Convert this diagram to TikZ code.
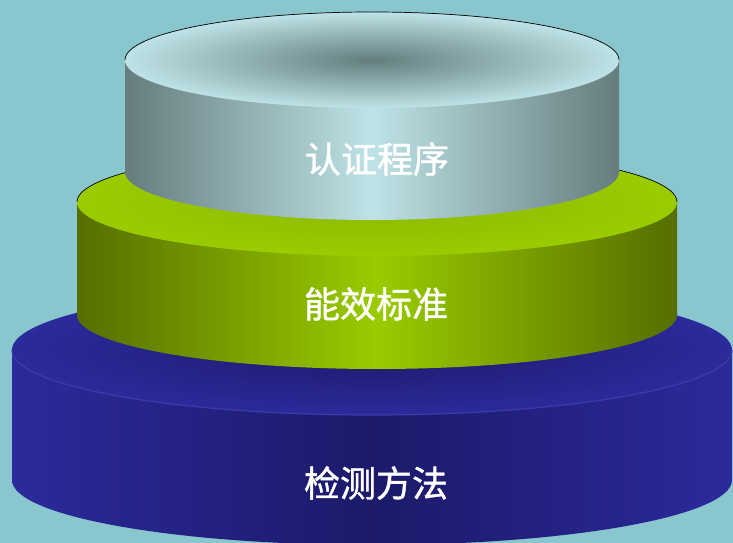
\documentclass[tikz,border=0pt]{standalone}
\usepackage{fontspec}
\newfontfamily\cjk{Noto Sans CJK SC}[FakeBold=1.2]
\definecolor{bgteal}{HTML}{8AC6CE}
\definecolor{blueedge}{HTML}{2B2A9C}
\definecolor{bluedeep}{HTML}{1C1A69}
\definecolor{bluerim}{HTML}{3B3BAA}
\definecolor{greenedge}{HTML}{566E00}
\definecolor{greenlit}{HTML}{99CC00}
\definecolor{greenface}{HTML}{8CB800}
\definecolor{greyedge}{HTML}{667C7E}
\definecolor{greylit}{HTML}{BEE3E6}
\definecolor{greydeep}{HTML}{637D7E}

\begin{document}
\begin{tikzpicture}[x = 1pt, y = 1pt, % one unit = one pixel
                label/.style = {text = white, font = \cjk\fontsize{36}{40}\selectfont,
                inner sep = 0pt},
                backedge/.style = {draw = black, line width = 0.7pt}
            ]

            \useasboundingbox (0,0) rectangle (733,543);
            \fill[bgteal] (0,0) rectangle (733,543);
            \clip (0,0) rectangle (733,543);

            % bottom tier
            \shade[left color = blueedge, right color = blueedge,
            middle color = bluedeep] (12,193) -- (12,63) arc[start angle = 180,
            end angle = 360, x radius = 360, y radius = 65] -- (732,193) --
            cycle;
            \shade[inner color = bluedeep, outer color = blueedge]
            (372,193) ellipse [x radius = 360, y radius = 65];
            \draw[bluerim, line width = 1.2pt] (732,193) arc[start angle = 0,
            end angle = -180, x radius = 360, y radius = 65];

            % middle tier
            \shade[left color = greenedge, right color = greenedge,
            middle color = greenlit] (77,341) -- (77,228) arc[start angle = 180,
            end angle = 360, x radius = 300, y radius = 54] -- (677,341) --
            cycle;
            \shade[inner color = greenface, outer color = greenlit]
            (377,341) ellipse [x radius = 300, y radius = 54];
            \draw[backedge] (677,341) arc[start angle = 0, end angle = 180,
            x radius = 300, y radius = 54];

            % top tier
            \shade[left color = greyedge, right color = greyedge,
            middle color = greylit] (125,483) -- (125,371) arc[start angle = 180,
            end angle = 360, x radius = 247, y radius = 48] -- (619,483) --
            cycle;
            \shade[inner color = greydeep, outer color = greylit]
            (372,483) ellipse [x radius = 247, y radius = 48];
            \draw[backedge] (619,483) arc[start angle = 0, end angle = 180,
            x radius = 247, y radius = 48];

            \node[label] (method) at (376,60) {检测方法};
            \node[label] (standard) at (376,239) {能效标准};
            \node[label] (procedure) at (377,384) {认证程序};
\end{tikzpicture}
\end{document}
